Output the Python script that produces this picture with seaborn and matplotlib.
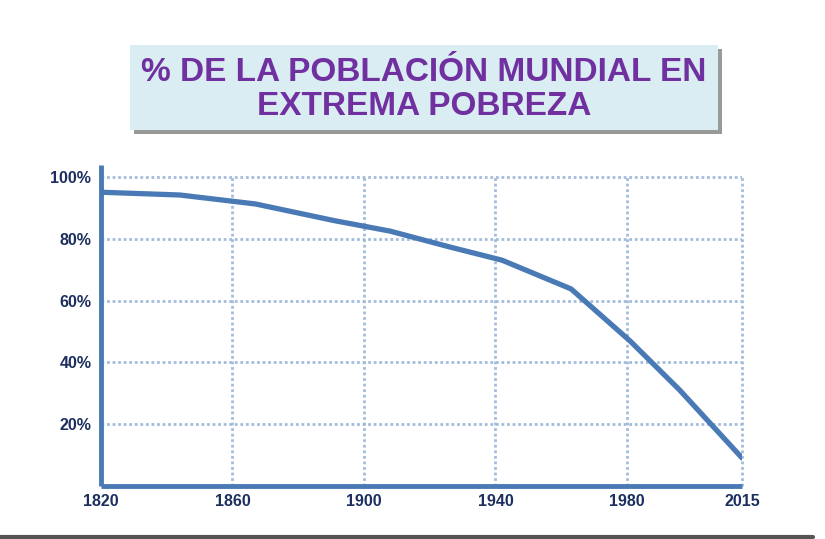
import numpy as np
import pandas as pd

import matplotlib.pyplot as plt
import matplotlib.patches as mpatches
import seaborn as sns

# %% data
years = [1820, 1844, 1867, 1891, 1908, 1926, 1942, 1963, 1981, 1996, 2015]
pct = [95.1, 94.2, 91.3, 85.9, 82.5, 77.4, 73.1, 63.8, 46.9, 31.1, 9.1]

x_ticks = [1820, 1860, 1900, 1940, 1980, 2015]
y_ticks = [20, 40, 60, 80, 100]
y_labels = ["20%", "40%", "60%", "80%", "100%"]

title_lines = ["% DE LA POBLACIÓN MUNDIAL EN", "EXTREMA POBREZA"]

df = pd.DataFrame({"year": years, "pct": pct})

# %%
sns.set_theme(style="white")
plt.rcParams["font.family"] = ["Liberation Sans", "DejaVu Sans"]

line_col = "#4a7ab5"
grid_col = "#a3bcdc"
label_col = "#1c2f5e"

fig = plt.figure(figsize=(8.25, 5.39), dpi=100)
ax = fig.add_axes([0.1224, 0.0983, 0.777, 0.5955])

# dotted grid, only up to 100%
ax.hlines(y_ticks, 1820, 2015, colors=grid_col, linestyles=(0, (1, 1)), lw=2, zorder=1)
ax.vlines(x_ticks[1:], 0, 100, colors=grid_col, linestyles=(0, (1, 1)), lw=2, zorder=1,
          clip_on=False)

sns.lineplot(data=df, x="year", y="pct", ax=ax, color=line_col, lw=3.8,
             solid_joinstyle="round", zorder=3)

ax.set_xlim(1820, 2015)
ax.set_ylim(0, 103.9)
ax.set_xlabel("")
ax.set_ylabel("")

ax.set_yticks(y_ticks)
ax.set_yticklabels(y_labels, fontsize=11.5, fontweight="bold", color=label_col)
ax.set_xticks(x_ticks)
ax.set_xticklabels([str(t) for t in x_ticks], fontsize=11.5, fontweight="bold", color=label_col)
ax.tick_params(axis="both", length=0)
ax.tick_params(axis="y", pad=7)
ax.tick_params(axis="x", pad=6)

for s in ["top", "right"]:
    ax.spines[s].set_visible(False)
for s in ["left", "bottom"]:
    ax.spines[s].set_color(line_col)
    ax.spines[s].set_linewidth(3.5)
    ax.spines[s].set_capstyle("butt")

# title box with shadow
fig.patches.append(mpatches.Rectangle((0.1626, 0.7510), 0.7127, 0.1577, transform=fig.transFigure,
                                      facecolor="#777777", edgecolor="none", alpha=0.75, zorder=0))
fig.patches.append(mpatches.Rectangle((0.1576, 0.7588), 0.7127, 0.1577, transform=fig.transFigure,
                                      facecolor="#daedf3", edgecolor="none", zorder=1))
fig.text(0.514, 0.8664, title_lines[0], ha="center", va="center", fontsize=24,
         fontweight="bold", color="#7030a0")
fig.text(0.514, 0.8015, title_lines[1], ha="center", va="center", fontsize=24,
         fontweight="bold", color="#7030a0")

# slide bottom edge
fig.add_artist(plt.Line2D([0, 0.985], [0.004, 0.004], transform=fig.transFigure,
                          color="#555555", lw=3))

fig.savefig("out.png", dpi=100)
